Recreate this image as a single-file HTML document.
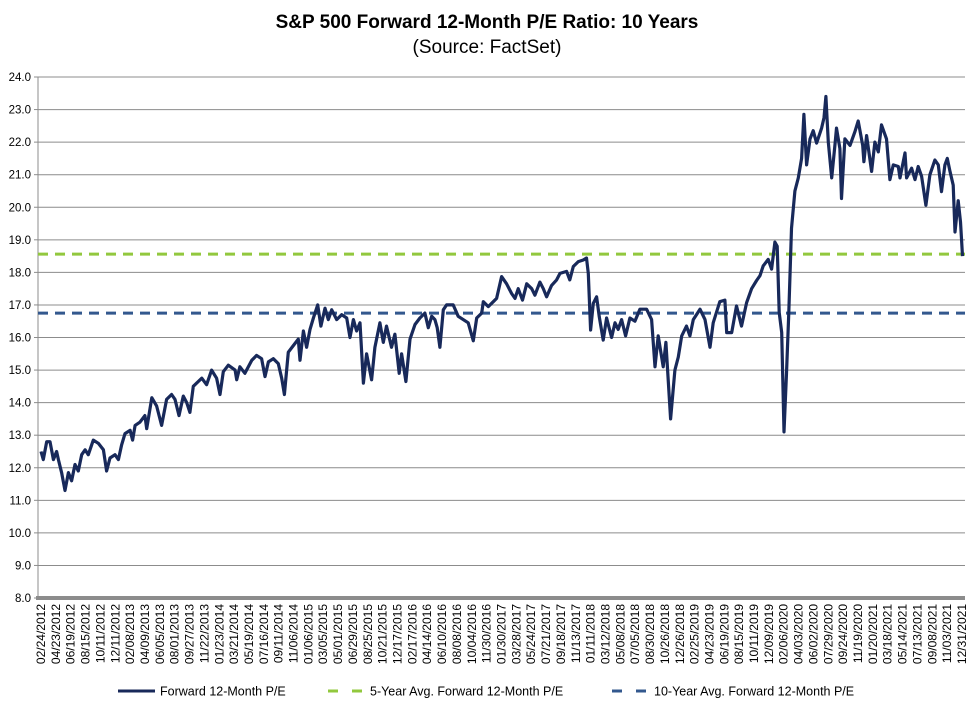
<!DOCTYPE html>
<html><head><meta charset="utf-8"><style>
body{margin:0;background:#fff;}
svg{display:block;font-family:"Liberation Sans",Arial,sans-serif;}
</style></head><body>
<svg id="chart" width="975" height="708" viewBox="0 0 975 708">
<text x="487" y="28" text-anchor="middle" font-size="19" font-weight="bold">S&amp;P 500 Forward 12-Month P/E Ratio: 10 Years</text>
<text x="487" y="53" text-anchor="middle" font-size="19">(Source: FactSet)</text>
<g id="grid"></g>
<g id="yticks"></g>
<g id="xticks"></g>
<g id="series"></g>
<g>
<g><line x1="118" y1="691" x2="155" y2="691" stroke="#18295a" stroke-width="3"/><text x="160" y="695.5" font-size="12.5">Forward 12-Month P/E</text></g>
<g><line x1="328" y1="691" x2="362" y2="691" stroke="#92c83e" stroke-width="3" stroke-dasharray="10,14"/><text x="370" y="695.5" font-size="12.5">5-Year Avg. Forward 12-Month P/E</text></g>
<g><line x1="612" y1="691" x2="648" y2="691" stroke="#33588e" stroke-width="3" stroke-dasharray="10,14"/><text x="654" y="695.5" font-size="12.5">10-Year Avg. Forward 12-Month P/E</text></g>
</g>
</svg>
<script>
const yTicks=[8,9,10,11,12,13,14,15,16,17,18,19,20,21,22,23,24];
const xLabels=["02/24/2012","04/23/2012","06/19/2012","08/15/2012","10/11/2012","12/11/2012","02/08/2013","04/09/2013","06/05/2013","08/01/2013","09/27/2013","11/22/2013","01/23/2014","03/21/2014","05/19/2014","07/16/2014","09/11/2014","11/06/2014","01/06/2015","03/05/2015","05/01/2015","06/29/2015","08/25/2015","10/21/2015","12/17/2015","02/17/2016","04/14/2016","06/10/2016","08/08/2016","10/04/2016","11/30/2016","01/30/2017","03/28/2017","05/24/2017","07/21/2017","09/18/2017","11/13/2017","01/11/2018","03/12/2018","05/08/2018","07/05/2018","08/30/2018","10/26/2018","12/26/2018","02/25/2019","04/23/2019","06/19/2019","08/15/2019","10/11/2019","12/09/2019","02/06/2020","04/03/2020","06/02/2020","07/29/2020","09/24/2020","11/19/2020","01/20/2021","03/18/2021","05/14/2021","07/13/2021","09/08/2021","11/03/2021","12/31/2021"];
const weeks=[0,1.3,3.2,5,6.9,8.7,9.7,11.5,13.4,15.3,17.1,19,20.8,22.7,24.6,26.4,29.2,32,34.8,36.6,38.5,41.3,43.2,45,46.9,49.7,51.1,52.5,55.2,58,59,61.8,64.5,67.3,70.1,72.9,74.8,77,79.4,81.3,83.1,85,87.8,89.7,92.4,95.2,98,99.9,101.7,104.5,108.3,109.2,111,113.8,117.6,120.3,123.1,125,126.9,129.6,132.4,134.3,135.8,138,140.8,143.6,144.5,146.4,148.2,150.1,152,154.4,156.2,158.5,160.3,162.2,165,167.8,170.6,172.4,174.3,176.1,178,179.9,
181.7,184.5,186.3,189.1,191,192.8,195.6,197.5,199.9,201.2,203.6,205.9,208.7,211.4,214.2,216.1,218,219.8,221.1,222.6,224.5,226.3,230,232.8,235.6,238.4,241.2,243.1,245.9,246.8,249.6,252.4,254.2,257,259.8,262.6,264.5,266.3,268.7,271,273.8,275.6,278.4,280.3,282.1,284.9,287.7,289.6,293.3,295.1,297,299.8,302.6,304.4,305.4,306.7,308.2,310,311.5,313.7,315.6,318.4,320.3,322.1,324,326.2,328.6,331.4,334.2,337.9,340.7,342.6,344.4,347.2,348.7,351.3,
353.7,355.6,357.5,360.2,362.1,364,367.7,370.5,373.3,375.1,378.8,381.6,382.6,385.4,388.1,390.9,393.7,396.5,399.3,401.2,403,405.8,407.7,409.5,410.8,411.9,413.3,414.6,416,417.3,418.8,420.7,422.6,424.4,425.7,427.2,429.1,430.9,432.8,435.6,436.9,438,439.3,441.2,443,443.9,445.8,446.7,448.6,451.4,454.2,456,458.5,459.2,460.7,463.5,465.3,467.2,469,471.8,473.7,475.6,478.4,479.3,482.1,483,485.8,487.7,489.5,491.4,493.8,496,498.8,500.7,502.5,504.4,505.7,507.2,509,510,511.8,513.1,514.2];
const peValues=[12.5,12.25,12.8,12.8,12.25,12.5,12.25,11.85,11.3,11.85,11.6,12.1,11.9,12.4,12.55,12.4,12.85,12.75,12.55,11.9,12.3,12.4,12.25,12.7,13.05,13.15,12.85,13.3,13.4,13.6,13.2,14.15,13.9,13.3,14.1,14.25,14.1,13.6,14.2,14,13.7,14.5,14.65,14.75,14.55,15,14.75,14.25,14.95,15.15,15,14.7,15.1,14.9,15.3,15.45,15.35,14.8,15.25,15.35,15.2,14.75,14.25,15.55,15.75,15.95,15.3,16.2,15.7,16.25,16.6,17,16.35,16.9,16.55,16.85,16.55,16.7,16.6,16,16.55,16.2,16.45,14.6,
15.5,14.7,15.7,16.45,15.85,16.35,15.7,16.1,14.9,15.5,14.65,15.95,16.4,16.6,16.75,16.3,16.65,16.55,16.3,15.7,16.85,17,17,16.65,16.55,16.45,15.9,16.6,16.75,17.1,16.95,17.1,17.2,17.87,17.65,17.35,17.2,17.5,17.15,17.65,17.5,17.3,17.7,17.5,17.25,17.6,17.77,17.97,18.03,17.77,18.18,18.33,18.38,18.44,17.97,16.23,17.05,17.25,16.65,15.92,16.6,16,16.45,16.25,16.55,16.05,16.6,16.5,16.87,16.87,16.55,15.1,16.05,15.1,15.85,13.5,
15,15.4,16.05,16.35,16.05,16.55,16.87,16.55,15.7,16.45,17.1,17.15,16.15,16.15,16.97,16.35,17.07,17.5,17.75,17.9,18.2,18.4,18.1,18.93,18.8,16.77,16.15,13.1,14.9,16.77,19.35,20.5,20.9,21.5,22.85,21.3,22.1,22.35,21.97,22.43,22.75,23.4,22,20.9,21.9,22.43,21.8,20.27,22.1,21.9,22.33,22.65,21.9,21.4,22.2,21.1,22,21.7,22.53,22.1,20.85,21.3,21.25,20.9,21.67,20.9,21.2,20.85,21.25,20.95,20.06,21,21.45,21.3,20.48,21.3,21.5,21.1,20.68,19.24,20.2,19.55,18.5];
const avg5=[18.56];
const avg10=[16.75];
const totalWeeks=514.2;

const NS="http://www.w3.org/2000/svg";
const L=38,R=965,T=77,B=598,yMin=8,yMax=24;
const yS=v=>B-(v-yMin)/(yMax-yMin)*(B-T);
const xW=w=>41+w/totalWeeks*(962.5-41);
const xL=i=>41+i*(962-41)/(xLabels.length-1);
function mk(tag,attrs,parent){const e=document.createElementNS(NS,tag);for(const k in attrs)e.setAttribute(k,attrs[k]);parent.appendChild(e);return e;}
const grid=document.getElementById('grid'),yt=document.getElementById('yticks'),xt=document.getElementById('xticks'),ser=document.getElementById('series');
yTicks.forEach(v=>{
  if(v>yMin){const g=mk('line',{x1:L,x2:R,y1:yS(v),y2:yS(v),stroke:'#8c8c8c','stroke-width':1},grid);
  
  }
  const tk=mk('line',{x1:L-4,x2:L,y1:yS(v),y2:yS(v),stroke:'#8c8c8c'},yt);
  
  
  const t=mk('text',{x:31,y:yS(v)+4,'text-anchor':'end','font-size':11.5},yt);
  t.textContent=v.toFixed(1);
  
  
});
const ax=mk('line',{x1:L,x2:L,y1:T,y2:B,stroke:'#8c8c8c'},yt);


const bx=mk('line',{x1:L-2,x2:R,y1:B,y2:B,stroke:'#8c8c8c','stroke-width':4},xt);


xLabels.forEach((s,i)=>{
  const x=xL(i);
  const t=mk('text',{x:0,y:0,'text-anchor':'end','font-size':12,transform:`translate(${x+4},604) rotate(-90)`},xt);
  t.textContent=s;
  
  
});
const l5=mk('line',{x1:L,x2:R,y1:yS(avg5[0]),y2:yS(avg5[0]),stroke:'#92c83e','stroke-width':3,'stroke-dasharray':'10,7'},ser);


const l10=mk('line',{x1:L,x2:R,y1:yS(avg10[0]),y2:yS(avg10[0]),stroke:'#33588e','stroke-width':3,'stroke-dasharray':'10,7'},ser);


const d=peValues.map((v,i)=>(i?'L':'M')+xW(weeks[i]).toFixed(1)+','+yS(v).toFixed(1)).join('');
const p=mk('path',{d:d,fill:'none',stroke:'#18295a','stroke-width':3.2,'stroke-linejoin':'round'},ser);


</script>
</body></html>
